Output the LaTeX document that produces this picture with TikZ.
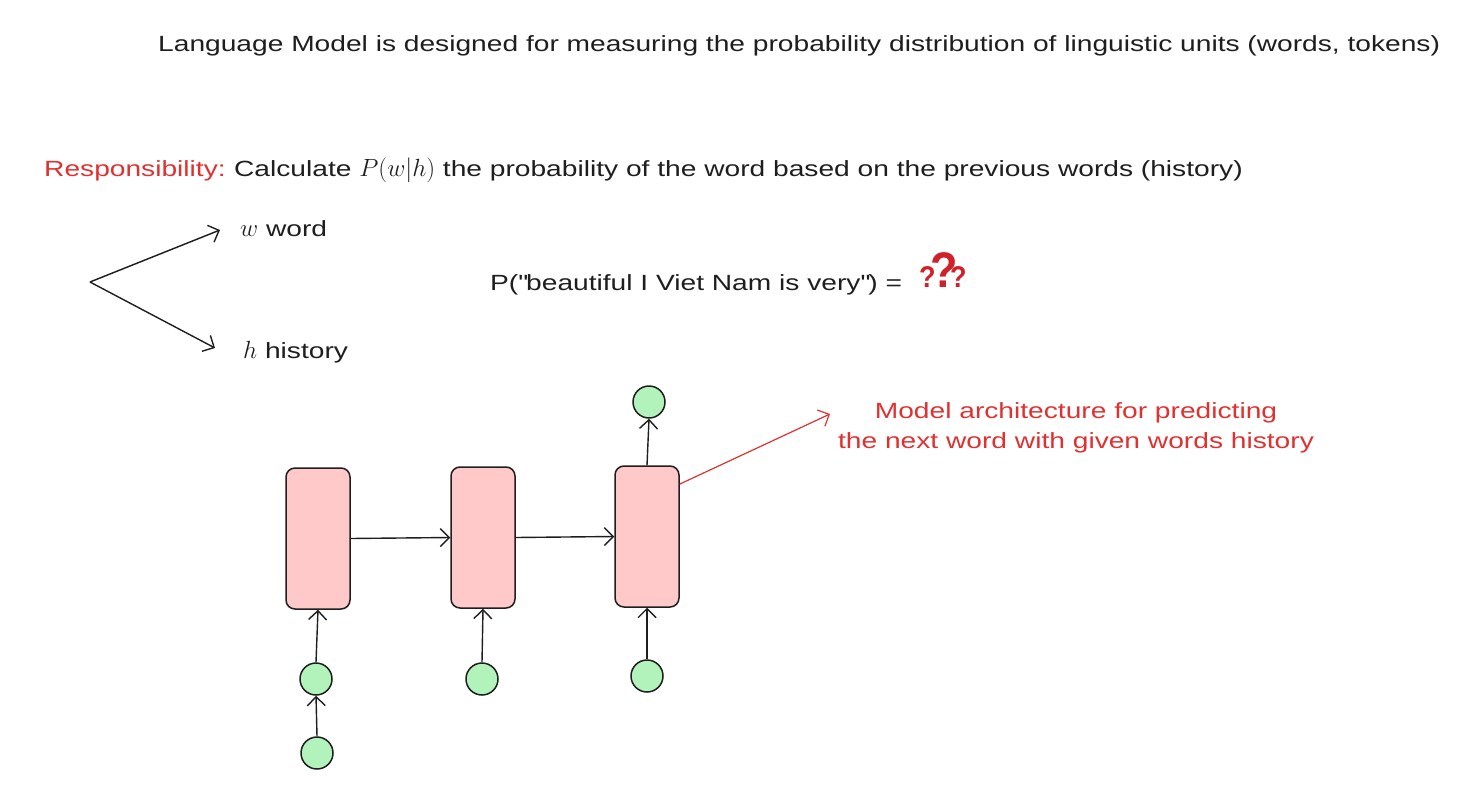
\documentclass[tikz,border=0pt]{standalone}
\usepackage{fontspec}
\setmainfont{Liberation Sans}[FakeStretch=1.28]
\newfontfamily\qfont{Liberation Sans}[FakeStretch=0.9]
\usetikzlibrary{arrows.meta,calc}
\definecolor{ink}{HTML}{1E1E1E}
\definecolor{redink}{HTML}{E03131}
\definecolor{qred}{HTML}{D0202A}
\definecolor{pinkfill}{HTML}{FFC9C9}
\definecolor{greenfill}{HTML}{B2F2BB}
\tikzset{
  cell/.style={draw=ink, line width=1.5pt, fill=pinkfill, rounded corners=9pt, minimum width=64pt, minimum height=141pt, inner sep=0pt},
  unit/.style={draw=ink, line width=1.5pt, fill=greenfill, circle, minimum size=32pt, inner sep=0pt},
  conn/.style={draw=ink, line width=1.4pt, -{Straight Barb[length=9pt,width=18pt,line width=1.4pt]}},
  redconn/.style={draw=redink, line width=1.2pt, -{Straight Barb[length=9pt,width=18pt,line width=1.2pt]}},
  txt/.style={font=\fontsize{22}{26}\selectfont, text=ink, inner sep=0pt, anchor=base west},
  redtxt/.style={font=\fontsize{22}{30}\selectfont, text=redink, inner sep=0pt, align=center},
  qm/.style={text=qred, inner sep=0pt, anchor=base west}
}
\begin{document}
\begin{tikzpicture}[x=1pt,y=-1pt]
\useasboundingbox (0,0) rectangle (1482,792);
% texts
\node[txt] (title) at (158,52) {Language Model is designed for measuring the probability distribution of linguistic units (words, tokens)};
\node[txt, text=redink] (resp) at (44,176) {Responsibility:};
\node[txt] (calc) at (resp.base east) {\hspace{8pt}Calculate {\fontsize{30}{32}\selectfont$P(w|h)$} the probability of the word based on the previous words (history)};
\node[txt] (wword) at (240,236) {{\fontsize{26}{30}\selectfont$w$} word};
\node[txt] (hhist) at (243,358) {{\fontsize{26}{30}\selectfont$h$} history};
\node[txt] (prob) at (490,290) {P(\textquotedbl beautiful I Viet Nam is very\textquotedbl) =};
\node[qm] (qmarks) at (919,287) {\qfont\bfseries\fontsize{30}{30}\selectfont ?\kern-5pt\fontsize{50}{50}\selectfont ?\kern-8pt\fontsize{30}{30}\selectfont ?};
\node[redtxt] (note) at (1076,428) {Model architecture for predicting\\the next word with given words history};
% chevron
\coordinate (fork) at (90,282);
\coordinate (wend) at (220,230);
\coordinate (hend) at (215,348);
\draw[conn] (fork) -- (wend);
\draw[conn] (fork) -- (hend);
% cells
\node[cell] (b1) at (318,538.5) {};
\node[cell] (b2) at (483,537.5) {};
\node[cell] (b3) at (647,536.5) {};
\node[unit] (top) at (649,402) {};
\node[unit] (c1) at (316,679) {};
\node[unit] (c1b) at (317,753) {};
\node[unit] (c2) at (482,679) {};
\node[unit] (c3) at (647,676) {};
\draw[conn] (b1.east) -- (b2.west);
\draw[conn] (b2.east) -- (b3.west);
\draw[conn] (b3.north) -- (top.south);
\draw[conn] (c1.north) -- (b1.south);
\draw[conn] (c1b.north) -- (c1.south);
\draw[conn] (c2.north) -- (b2.south);
\draw[conn] (c3.north) -- (b3.south);
\coordinate (noteend) at (830,414);
\draw[redconn] (b3.58) -- (noteend);
\end{tikzpicture}
\end{document}
